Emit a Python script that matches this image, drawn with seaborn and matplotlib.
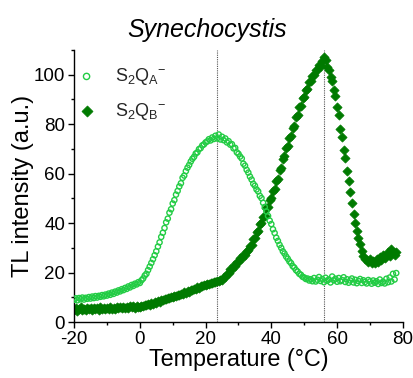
import numpy as np
import pandas as pd
import matplotlib
matplotlib.use("Agg")
import matplotlib.pyplot as plt
from matplotlib.ticker import MultipleLocator
import seaborn as sns

sns.set_theme(style="ticks")
plt.rcParams['font.family'] = ['Liberation Sans', 'DejaVu Sans']
plt.rcParams['mathtext.fontset'] = 'custom'
plt.rcParams['mathtext.rm'] = 'Liberation Sans'
plt.rcParams['mathtext.it'] = 'Liberation Sans:italic'
plt.rcParams['axes.unicode_minus'] = False

title = "Synechocystis"
x_label = "Temperature (\u00b0C)"
y_label = "TL intensity (a.u.)"
series_names = [r"S$_2$Q$_{\rm A}$$^{-}$", r"S$_2$Q$_{\rm B}$$^{-}$"]
marker_lines = [23.5, 56.0]

temperature = np.arange(-20, 78.01, 0.5)

s2qa = [
    9.0, 9.6, 8.8, 9.7, 9.2, 9.9, 9.1, 9.8, 9.4, 10.1,
    9.5, 10.3, 9.7, 10.5, 9.9, 10.6, 10.2, 10.9, 10.4, 11.1,
    10.7, 11.5, 11.0, 11.9, 11.4, 12.3, 11.9, 12.8, 12.4, 13.3,
    12.9, 13.8, 13.4, 14.4, 14.0, 15.0, 14.6, 15.5, 15.2, 16.1,
    15.8, 16.9, 17.6, 18.8, 19.5, 21.0, 22.4, 23.9, 25.4, 27.0,
    28.6, 30.5, 32.2, 34.4, 36.1, 38.0, 40.3, 41.8, 44.2, 45.6,
    47.9, 49.3, 51.5, 53.0, 54.8, 56.1, 58.3, 59.2, 61.0, 62.4,
    63.5, 64.9, 66.0, 66.8, 68.1, 68.6, 69.9, 70.3, 71.4, 71.8,
    72.6, 73.0, 73.9, 73.4, 74.6, 74.0, 75.3, 74.2, 75.8, 73.8,
    74.9, 73.5, 74.2, 72.6, 73.1, 71.7, 71.9, 70.2, 70.4, 68.6,
    68.0, 66.9, 66.1, 64.0, 63.2, 61.5, 60.4, 58.8, 57.6, 55.9,
    55.1, 53.6, 52.8, 51.0, 50.1, 48.2, 46.5, 44.7, 42.9, 41.0,
    39.6, 37.5, 36.0, 34.1, 32.8, 31.2, 30.0, 28.6, 27.7, 26.5,
    25.6, 24.5, 23.8, 22.6, 22.0, 21.0, 20.4, 19.5, 19.1, 18.3,
    18.0, 17.4, 17.6, 16.8, 17.3, 16.5, 17.8, 16.4, 17.1, 18.2,
    16.6, 17.4, 16.1, 17.9, 16.7, 17.2, 16.0, 18.4, 16.9, 17.5,
    16.3, 17.8, 16.5, 17.0, 18.1, 16.2, 17.3, 15.9, 16.8, 17.6,
    16.0, 17.1, 15.7, 16.6, 17.4, 15.8, 16.9, 16.2, 15.6, 17.0,
    16.4, 15.5, 16.8, 15.9, 16.5, 15.4, 17.2, 15.8, 16.3, 15.6,
    17.5, 16.1, 18.0, 16.4, 19.5, 17.2, 19.8,
]

s2qb = [
    4.8, 5.6, 4.6, 5.3, 5.9, 4.9, 5.4, 5.0, 5.7, 5.1,
    5.5, 4.9, 5.8, 5.2, 5.6, 5.0, 5.9, 5.3, 5.7, 5.1,
    5.6, 5.2, 6.0, 5.4, 5.8, 5.3, 6.1, 5.6, 5.9, 5.5,
    6.2, 5.7, 6.0, 5.6, 6.4, 5.9, 6.3, 5.8, 6.5, 6.0,
    6.2, 6.6, 6.4, 6.9, 6.7, 7.2, 7.0, 7.6, 7.4, 8.0,
    7.9, 8.5, 8.3, 9.0, 8.8, 9.3, 9.2, 9.8, 9.6, 10.2,
    10.0, 10.6, 10.5, 11.0, 10.9, 11.5, 11.3, 12.0, 11.8, 12.4,
    12.3, 12.9, 12.8, 13.4, 13.3, 14.0, 13.8, 14.6, 14.4, 15.1,
    14.8, 15.4, 15.2, 15.9, 15.6, 16.3, 16.1, 16.7, 16.5, 17.0,
    17.2, 18.3, 18.1, 19.6, 19.9, 21.3, 21.5, 22.9, 22.8, 24.3,
    24.2, 25.9, 25.7, 27.1, 27.3, 28.8, 29.2, 30.9, 31.2, 33.4,
    33.8, 36.2, 37.0, 39.5, 40.1, 42.6, 43.0, 45.9, 46.4, 49.3,
    50.0, 52.9, 53.8, 57.0, 58.0, 61.5, 62.4, 66.0, 67.0, 70.4,
    71.2, 74.5, 75.3, 78.6, 79.4, 82.7, 83.5, 86.8, 87.4, 90.4,
    90.9, 93.8, 94.3, 97.2, 97.3, 99.6, 99.8, 101.8, 101.9, 103.8,
    103.5, 105.6, 107.2, 105.8, 103.0, 101.8, 99.0, 97.4, 93.8, 91.4,
    87.0, 83.5, 78.2, 74.8, 69.6, 66.4, 61.0, 57.2, 52.4, 48.0,
    43.6, 40.2, 37.0, 34.0, 31.4, 28.6, 26.8, 25.6, 25.0, 24.2,
    25.3, 23.9, 24.6, 24.0, 25.5, 24.3, 26.4, 25.1, 27.3, 25.8,
    26.9, 28.2, 26.5, 29.6, 28.4, 27.2, 28.3,
]

df = pd.concat([
    pd.DataFrame({"T": temperature, "TL": s2qa, "series": series_names[0]}),
    pd.DataFrame({"T": temperature, "TL": s2qb, "series": series_names[1]}),
])

fig = plt.figure(figsize=(4.14, 3.78), dpi=100)
ax = fig.add_axes([0.179, 0.148, 0.794, 0.72])

for x in marker_lines:
    ax.axvline(x, color="#555555", linestyle=(0, (1, 1)), linewidth=0.8, zorder=0)

sub_a = df[df["series"] == series_names[0]]
sub_b = df[df["series"] == series_names[1]]
sns.scatterplot(data=sub_a, x="T", y="TL", ax=ax, marker="o", s=14,
                facecolor="none", edgecolor="#22cc44", linewidth=1.0,
                label=series_names[0], zorder=3)
sns.scatterplot(data=sub_b, x="T", y="TL", ax=ax, marker="D", s=22,
                color="#007a00", edgecolor="#007a00", linewidth=0.5,
                label=series_names[1], zorder=2)

ax.set_xlim(-20, 80)
ax.set_ylim(0, 110)
ax.xaxis.set_major_locator(MultipleLocator(20))
ax.xaxis.set_minor_locator(MultipleLocator(10))
ax.yaxis.set_major_locator(MultipleLocator(20))
ax.yaxis.set_minor_locator(MultipleLocator(10))
ax.tick_params(axis="both", which="major", direction="out", length=4.5, width=1,
               labelsize=13.5, color="black", labelcolor="black", pad=2)
ax.tick_params(axis="both", which="minor", direction="out", length=2.5, width=1,
               color="black")
for sp in ["top", "right"]:
    ax.spines[sp].set_visible(False)
for sp in ["left", "bottom"]:
    ax.spines[sp].set_color("black")
    ax.spines[sp].set_linewidth(1)

ax.set_xlabel(x_label, fontsize=16.8, labelpad=0, color="black")
ax.set_ylabel(y_label, fontsize=17, labelpad=0, color="black")
fig.text(0.5, 0.92, title, fontsize=18, style="italic", ha="center",
         va="center", color="black")

leg = ax.legend(loc="upper left", bbox_to_anchor=(-0.05, 0.98), frameon=False,
                fontsize=13, handletextpad=0.55, labelspacing=0.75,
                borderaxespad=0.2, markerscale=1.2)

fig.savefig("out.png", dpi=100)
